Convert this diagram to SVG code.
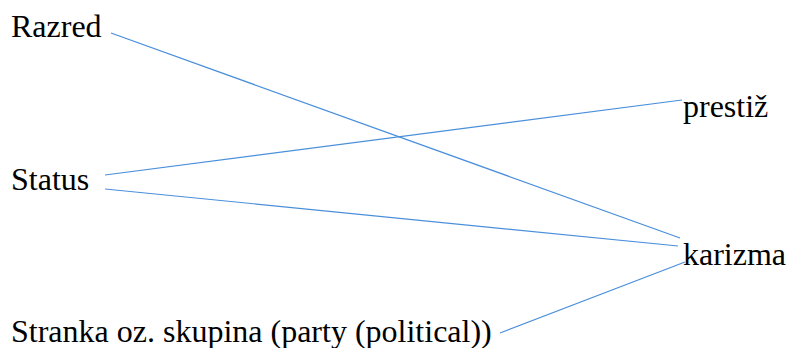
<svg xmlns="http://www.w3.org/2000/svg" width="791" height="348" viewBox="0 0 791 348">
<style>
.t{font-family:'Liberation Serif','Times New Roman','DejaVu Serif',serif;font-size:32px;fill:#000}
.c line{stroke:#4a8fdb;stroke-width:1.2;fill:none}
</style>
<rect width="791" height="348" fill="#fff"/>
<g class="c" id="connectors">
<line x1="111" y1="33" x2="680" y2="238"/>
<line x1="105" y1="175" x2="682" y2="100"/>
<line x1="105" y1="189" x2="678" y2="246"/>
<line x1="500" y1="333" x2="685" y2="262"/>
</g>
<g id="razred"><text class="t" x="11" y="37">Razred</text></g>
<g id="status"><text class="t" x="11" y="190">Status</text></g>
<g id="stranka"><text class="t" x="11" y="342">Stranka oz. skupina (party (political))</text></g>
<g id="prestiz"><text class="t" x="683" y="117">prestiž</text></g>
<g id="karizma"><text class="t" x="683" y="265">karizma</text></g>
</svg>
